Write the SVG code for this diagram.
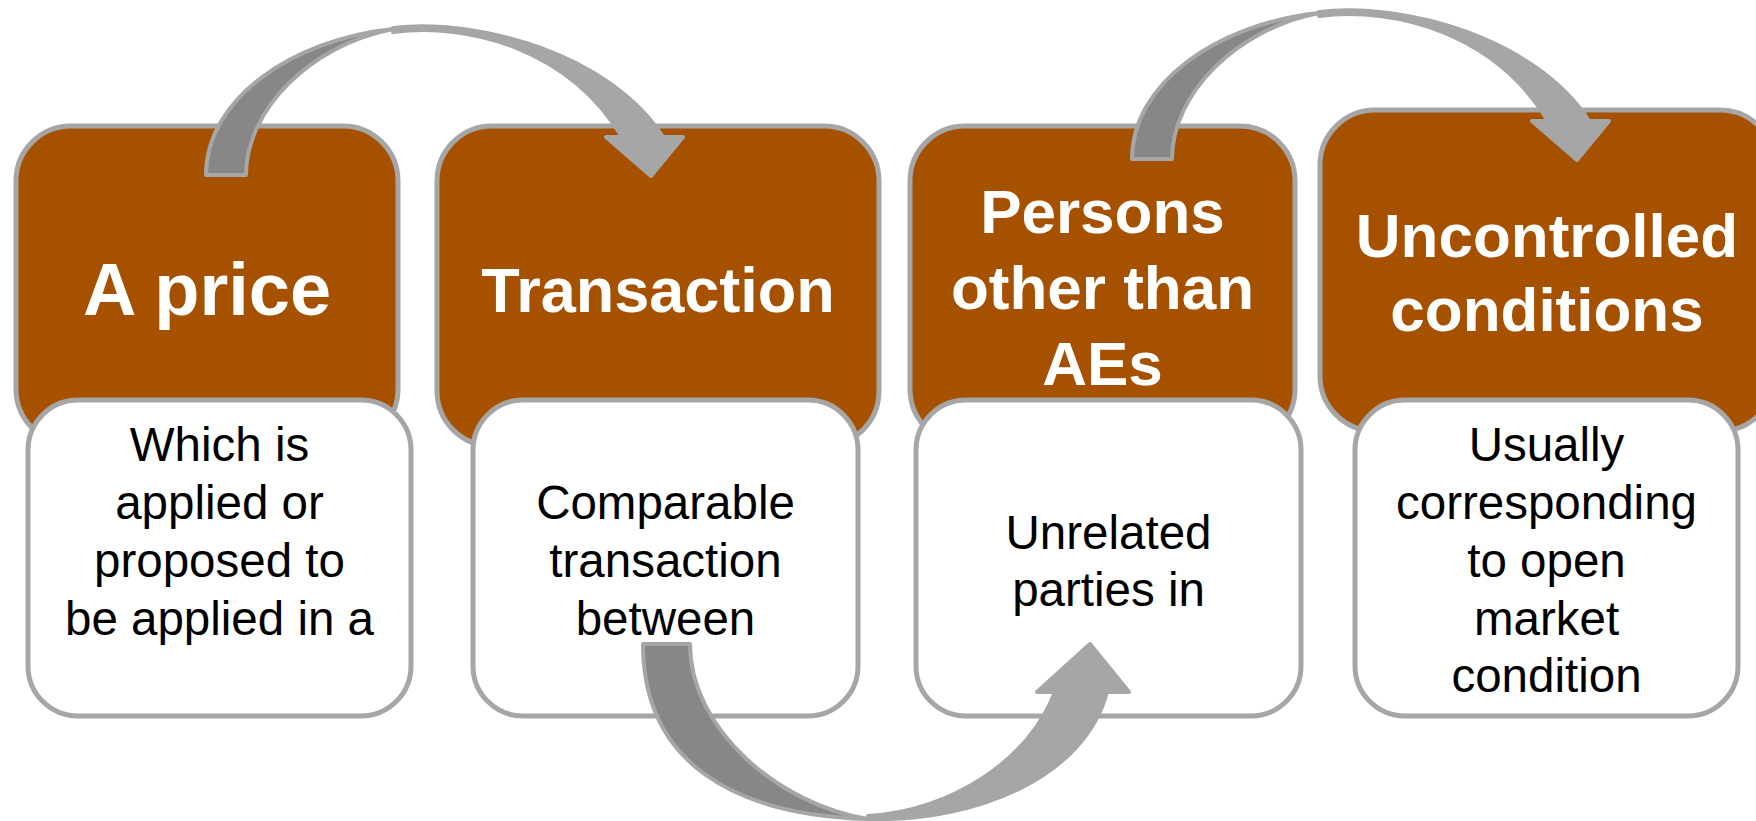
<svg xmlns="http://www.w3.org/2000/svg" xmlns:xlink="http://www.w3.org/1999/xlink" width="1756" height="821" viewBox="0 0 1756 821">
<style>
.head{fill:#A65100;stroke:#A6A6A6;stroke-width:5}
.body{fill:#FFFFFF;stroke:#A6A6A6;stroke-width:5}
.t{font-family:"Liberation Sans",Arial,sans-serif;font-weight:bold;fill:#FFFFFF;text-anchor:middle}
.b{font-family:"Liberation Sans",Arial,sans-serif;font-size:47.5px;fill:#000000;text-anchor:middle}
.back{fill:#878787;stroke:#A6A6A6;stroke-width:4;stroke-linejoin:round}
.front{fill:#A6A6A6;stroke:#A6A6A6;stroke-width:4;stroke-linejoin:round}
</style>
<defs>
<g id="arcTop">
<path class="back" d="M206,175 C206,100 290,40 393,29 C310,45 246,110 246,175 Z"/>
<path class="front" d="M393,28 C480,18 610,55 663,137 L683,137 L651,176 L606,137 L622,137 C570,50 470,22 393,32 Z"/>
</g>
</defs>
<rect width="1756" height="821" fill="#FFFFFF"/>
<g id="node1">
<rect class="head" x="16" y="126" width="382" height="318" rx="55"/>
<rect class="body" x="28" y="400" width="383" height="316" rx="50"/>
<text class="t" x="207" y="315" font-size="74">A price</text>
<text class="b" x="219.5" y="461">Which is</text>
<text class="b" x="219.5" y="519">applied or</text>
<text class="b" x="219.5" y="577">proposed to</text>
<text class="b" x="219.5" y="635">be applied in a</text>
</g>
<g id="node2">
<rect class="head" x="437" y="126" width="442" height="320" rx="55"/>
<rect class="body" x="473" y="400" width="385" height="316" rx="50"/>
<text class="t" x="658" y="312" font-size="63">Transaction</text>
<text class="b" x="665.5" y="519">Comparable</text>
<text class="b" x="665.5" y="577">transaction</text>
<text class="b" x="665.5" y="635">between</text>
</g>
<g id="node3">
<rect class="head" x="910" y="126" width="385" height="318" rx="55"/>
<rect class="body" x="916" y="400" width="385" height="316" rx="50"/>
<text class="t" x="1102.5" y="233" font-size="62">Persons</text>
<text class="t" x="1102.5" y="309" font-size="62">other than</text>
<text class="t" x="1102.5" y="385" font-size="62">AEs</text>
<text class="b" x="1108.5" y="549">Unrelated</text>
<text class="b" x="1108.5" y="606">parties in</text>
</g>
<g id="node4">
<rect class="head" x="1320" y="110" width="455" height="321" rx="55"/>
<rect class="body" x="1355" y="400" width="383" height="316" rx="50"/>
<text class="t" x="1547" y="257" font-size="62">Uncontrolled</text>
<text class="t" x="1547" y="331" font-size="62">conditions</text>
<text class="b" x="1546.5" y="461">Usually</text>
<text class="b" x="1546.5" y="519">corresponding</text>
<text class="b" x="1546.5" y="577">to open</text>
<text class="b" x="1546.5" y="635">market</text>
<text class="b" x="1546.5" y="692">condition</text>
</g>
<g id="connectors">
<use xlink:href="#arcTop" href="#arcTop"/>
<use xlink:href="#arcTop" href="#arcTop" transform="translate(926,-16)"/>
<path class="back" d="M643,644 C643,760 730,815 868,819 C780,805 690,730 690,644 Z"/>
<path class="front" d="M868,819 C980,822 1085,775 1107,692 L1129,692 L1090,644 L1037,692 L1055,692 C1030,760 950,812 868,816 Z"/>
</g>
</svg>
